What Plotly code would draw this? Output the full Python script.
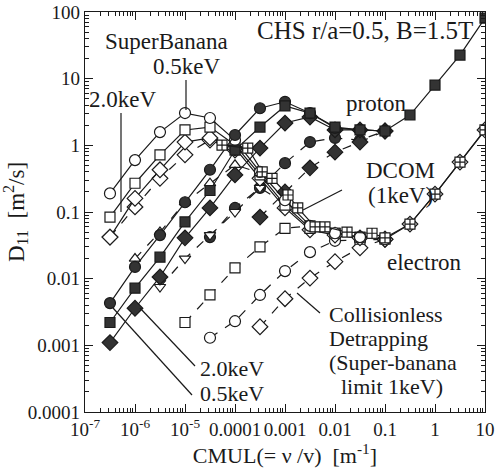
import plotly.graph_objects as go

# ---------------- data ----------------
# CMUL grid, half-decade steps [1/m]
X_GRID = [3.16e-7, 1e-6, 3.16e-6, 1e-5, 3.16e-5, 1e-4, 3.16e-4, 1e-3,
          3.16e-3, 1e-2, 3.16e-2, 0.1, 0.316, 1.0, 3.16, 10.0]

# protons (filled markers, solid lines)
PROTON_05_Y = [0.0043, 0.015, 0.045, 0.14, 0.43, 1.43, 3.6, 4.5, 3.05, 1.82, 1.7, 1.64]
PROTON_10_Y = [0.0022, 0.0072, 0.021, 0.071, 0.21, 0.85, 1.88, 3.9, 3.05, 1.88, 1.7, 1.64,
               2.85, 8.0, 22.6, 81.0]
PROTON_20_Y = [0.0011, 0.0036, 0.0106, 0.041, 0.115, 0.36, 0.91, 2.16, 2.66, 1.7, 1.7, 1.64]
# protons (dashed lines)
PROTON_05_DASH_Y = [0.042, 0.115, 0.23, 0.54, 1.12, 1.29, 1.2, 1.64]      # from X_GRID[4]
PROTON_20_DASH_Y = [0.084, 0.20, 0.46, 0.79, 1.12, 1.64]                  # from X_GRID[6]
TRI_UP_Y = [0.020, 0.050, 0.14, 0.27, 0.51, 0.385]                        # from X_GRID[1]
TRI_DOWN_Y = [0.0075, 0.020, 0.045, 0.10, 0.23, 0.136]                    # from X_GRID[2]

# electrons (open markers)
ELEC_05_Y = [0.19, 0.60, 1.58, 3.05, 2.57, 1.2, 0.40, 0.15, 0.062, 0.048, 0.042, 0.039]
ELEC_10_Y = [0.084, 0.27, 0.72, 1.7, 1.88, 1.01, 0.36, 0.127, 0.057, 0.048, 0.042, 0.039]
ELEC_20_Y = [0.042, 0.16, 0.43, 1.12, 1.29, 0.91, 0.32, 0.115, 0.054, 0.045, 0.041, 0.039,
             0.066, 0.186, 0.56, 1.7]
ELEC_20_DASH_Y = [0.042, 0.119, 0.32, 0.72, 1.2, 0.85]

# DCOM (1 keV)
DCOM_X = [5.5e-5, 1.8e-4, 3.5e-4, 5.5e-4, 1.15e-3, 1.8e-3, 4.0e-3, 6.3e-3, 0.0174, 0.055,
          0.1, 0.316, 1.0, 3.16, 10.0]
DCOM_Y = [1.01, 0.91, 0.40, 0.32, 0.18, 0.115, 0.060, 0.060, 0.050, 0.048,
          0.041, 0.066, 0.186, 0.56, 1.7]

# collisionless detrapping (super-banana limit 1 keV)
DET_SQ_Y = [0.0022, 0.0057, 0.0145, 0.030, 0.057, 0.062, 0.048, 0.039]   # from X_GRID[3]
DET_CI_Y = [0.0013, 0.0023, 0.0057, 0.013, 0.025, 0.037, 0.038, 0.039]   # from X_GRID[4]
DET_DI_Y = [0.0019, 0.0050, 0.0102, 0.018, 0.029, 0.039]                 # from X_GRID[6]

X_TICKS = [1e-7, 1e-6, 1e-5, 1e-4, 1e-3, 1e-2, 1e-1, 1, 10]
X_TICK_TEXT = ["10<sup>-7</sup>", "10<sup>-6</sup>", "10<sup>-5</sup>", "0.0001", "0.001",
               "0.01", "0.1", "1", "10"]
Y_TICKS = [1e-4, 1e-3, 1e-2, 1e-1, 1, 10, 100]
Y_TICK_TEXT = ["0.0001", "0.001", "0.01", "0.1", "1", "10", "100"]

X_DECADES = [-7, -6, -5, -4, -3, -2, -1, 0]
Y_DECADES = [-4, -3, -2, -1, 0, 1]
MINOR_MULT = [2, 3, 4, 5, 6, 7, 8, 9]

# ---------------- figure ----------------
INK = "#1a1a1a"
FILL = "#333333"
FONT = "Liberation Serif"

fig = go.Figure()


def add(x, y, symbol, filled, dash="solid", size=10):
    fig.add_trace(go.Scatter(
        x=x, y=y, mode="lines+markers",
        line=dict(color=INK, width=1.2, dash=dash),
        marker=dict(symbol=symbol, size=size,
                    color=FILL if filled else "white",
                    line=dict(color=INK, width=1.2)),
        showlegend=False, hoverinfo="skip"))


# collisionless detrapping (dashed, open)
add(X_GRID[4:4 + len(DET_CI_Y)], DET_CI_Y, "circle", False, "dash", 11)
add(X_GRID[6:6 + len(DET_DI_Y)], DET_DI_Y, "diamond", False, "dash", 12)
add(X_GRID[3:3 + len(DET_SQ_Y)], DET_SQ_Y, "square", False, "dash", 10)

# proton dashed
add(X_GRID[4:4 + len(PROTON_05_DASH_Y)], PROTON_05_DASH_Y, "circle", True, "dash", 11)
add(X_GRID[6:6 + len(PROTON_20_DASH_Y)], PROTON_20_DASH_Y, "diamond", True, "dash", 12)
add(X_GRID[2:2 + len(TRI_DOWN_Y)], TRI_DOWN_Y, "triangle-down", False, "dash", 10)

# electrons
add(X_GRID[:len(ELEC_20_DASH_Y)], ELEC_20_DASH_Y, "diamond", False, "dash", 12)
add(X_GRID[:len(ELEC_20_Y)], ELEC_20_Y, "diamond", False, "solid", 12)
add(X_GRID[:len(ELEC_10_Y)], ELEC_10_Y, "square", False, "solid", 10)
add(X_GRID[:len(ELEC_05_Y)], ELEC_05_Y, "circle", False, "solid", 11)

# protons solid
add(X_GRID[1:1 + len(TRI_UP_Y)], TRI_UP_Y, "triangle-up", False, "dash", 10)
add(X_GRID[:len(PROTON_20_Y)], PROTON_20_Y, "diamond", True, "solid", 12)
add(X_GRID[:len(PROTON_05_Y)], PROTON_05_Y, "circle", True, "solid", 11)
add(X_GRID[:len(PROTON_10_Y)], PROTON_10_Y, "square", True, "solid", 10)

# DCOM
add(DCOM_X, DCOM_Y, "square-cross", False, "solid", 10)


# ---------------- annotations (paper coords) ----------------
def txt(s, x, y, size=23, xanchor="center"):
    fig.add_annotation(text=s, x=x, y=y, xref="paper", yref="paper", showarrow=False,
                       xanchor=xanchor, yanchor="middle",
                       font=dict(family=FONT, size=size, color=INK))


def seg(x0, y0, x1, y1):
    fig.add_shape(type="line", xref="paper", yref="paper", x0=x0, y0=y0, x1=x1, y1=y1,
                  line=dict(color=INK, width=1.2))


txt("SuperBanana", 0.2025, 0.925)
txt("0.5keV", 0.2525, 0.865)
seg(0.2525, 0.83, 0.2525, 0.755)
txt("2.0keV", 0.0925, 0.78)
seg(0.09, 0.7475, 0.09, 0.50)
txt("CHS r/a=0.5, B=1.5T", 0.7, 0.955, 25)
txt("proton", 0.7275, 0.7725)
txt("DCOM", 0.7875, 0.605)
txt("(1keV)", 0.7875, 0.5425)
seg(0.545, 0.505, 0.6425, 0.555)
txt("electron", 0.8475, 0.375)
txt("Collisionless", 0.605, 0.245, 22, "left")
txt("Detrapping", 0.605, 0.185, 22, "left")
txt("(Super-banana", 0.605, 0.125, 22, "left")
txt("limit 1keV)", 0.635, 0.065, 22, "left")
seg(0.53, 0.2975, 0.5875, 0.2475)
txt("2.0keV", 0.3675, 0.11, 22)
txt("0.5keV", 0.3675, 0.0475, 22)
seg(0.1375, 0.26, 0.275, 0.115)
seg(0.07, 0.26, 0.2675, 0.0425)


def minor_vals(decades):
    return [m * 10.0 ** d for d in decades for m in MINOR_MULT]


axis_common = dict(
    type="log", showgrid=False, zeroline=False, showline=True, linecolor=INK, linewidth=1.3,
    mirror="allticks", ticks="inside", ticklen=8, tickwidth=1.2, tickcolor=INK,
    tickfont=dict(family=FONT, size=19, color=INK), tickangle=0, automargin=False,
    ticklabeloverflow="allow",
)

fig.update_xaxes(range=[-7, 1], tickvals=X_TICKS, ticktext=X_TICK_TEXT,
                 minor=dict(tickmode="array", tickvals=minor_vals(X_DECADES), ticks="inside",
                            ticklen=4, tickwidth=1, tickcolor=INK, showgrid=False),
                 title=dict(text="CMUL(= ν /v)  [m<sup>-1</sup>]",
                            font=dict(family=FONT, size=22, color=INK), standoff=6),
                 **axis_common)
fig.update_yaxes(range=[-4, 2], tickvals=Y_TICKS, ticktext=Y_TICK_TEXT,
                 minor=dict(tickmode="array", tickvals=minor_vals(Y_DECADES), ticks="inside",
                            ticklen=4, tickwidth=1, tickcolor=INK, showgrid=False),
                 title=dict(text="D<sub>11</sub>  [m<sup>2</sup>/s]",
                            font=dict(family=FONT, size=23, color=INK), standoff=2),
                 **axis_common)

fig.update_layout(width=498, height=475, margin=dict(l=85, r=13, t=12, b=63),
                  plot_bgcolor="white", paper_bgcolor="white",
                  font=dict(family=FONT, color=INK))

# remove the default 8px body margin of the page so the figure sits at the window origin
fig.write_html("out.html", config={"displayModeBar": False},
               post_script="document.body.style.margin='0px';")
